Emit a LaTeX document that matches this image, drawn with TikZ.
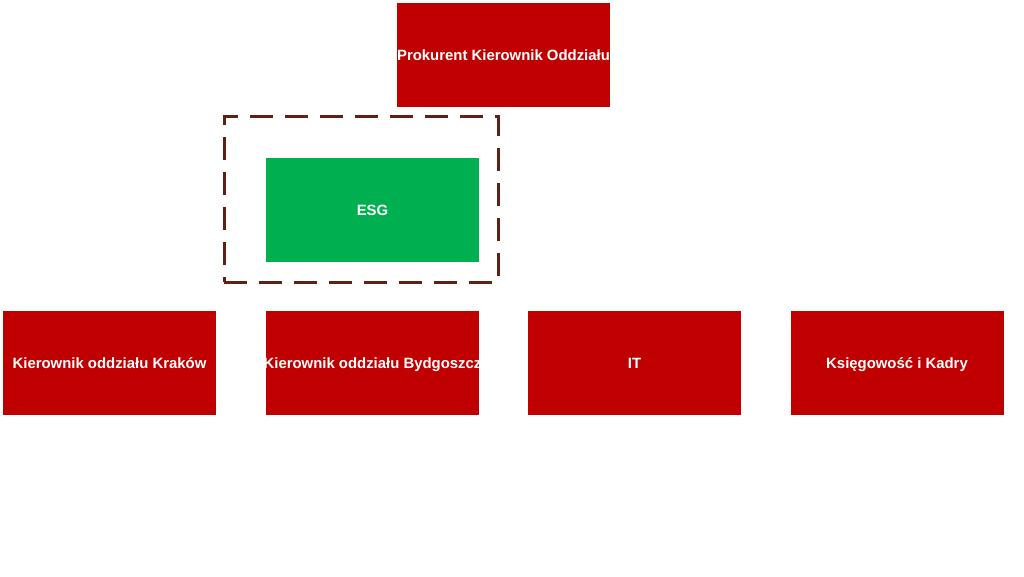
\documentclass[tikz,border=0pt]{standalone}
\usepackage{fontspec}
\setmainfont{Liberation Sans}
\definecolor{boxred}{HTML}{C00000}
\definecolor{boxgreen}{HTML}{00B050}
\definecolor{dashbrown}{HTML}{5C2216}
\begin{document}
\begin{tikzpicture}[x=1pt,y=-1pt,
  orgbox/.style={rectangle,fill=boxred,minimum width=213pt,minimum height=104pt,inner sep=0pt},
  greenbox/.style={orgbox,fill=boxgreen},
  boxtext/.style={text=white,font=\fontsize{14.9}{17}\selectfont\bfseries,inner sep=0pt,anchor=base,yshift=-5.5pt},
  groupbox/.style={rectangle,draw=dashbrown,line width=3pt,dash pattern=on 23pt off 12pt,minimum width=274pt,minimum height=166pt,inner sep=0pt}]
\useasboundingbox (0,0) rectangle (1024,576);
\fill[white] (0,0) rectangle (1024,576);
% boxes
\node[orgbox] (top) at (503.5,55) {};
\node[groupbox] (grp) at (361,199) {};
\node[greenbox] (esg) at (372.5,209.5) {};
\node[orgbox] (krk) at (109.5,363) {};
\node[orgbox] (bdg) at (372.5,363) {};
\node[orgbox] (it) at (634.5,363) {};
\node[orgbox] (kk) at (897,363) {};
% texts (clipped to their boxes)
\begin{scope}
\clip (top.south west) rectangle (top.north east);
\node[boxtext] (toptxt) at (top) {Prokurent Kierownik Oddziału};
\end{scope}
\node[boxtext] (esgtxt) at (esg) {ESG};
\node[boxtext] (krktxt) at (krk) {Kierownik oddziału Kraków};
\begin{scope}
\clip (bdg.south west) rectangle (bdg.north east);
\node[boxtext] (bdgtxt) at (bdg) {Kierownik oddziału Bydgoszcz};
\end{scope}
\node[boxtext] (ittxt) at (it) {IT};
\node[boxtext] (kktxt) at (kk) {Księgowość i Kadry};
\end{tikzpicture}
\end{document}
